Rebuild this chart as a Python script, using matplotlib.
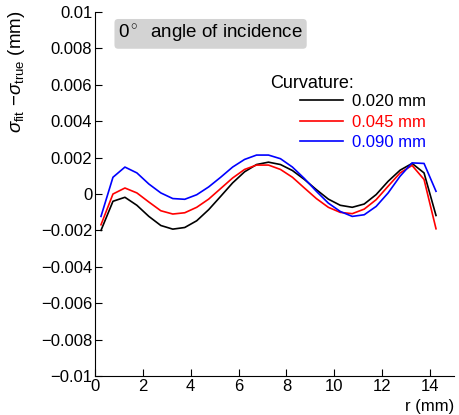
import matplotlib
matplotlib.use("Agg")
import matplotlib.pyplot as plt
import numpy as np

plt.rcParams['font.family'] = ['Liberation Sans', 'DejaVu Sans']
plt.rcParams['mathtext.fontset'] = 'custom'
plt.rcParams['mathtext.rm'] = 'Liberation Sans'
plt.rcParams['mathtext.it'] = 'Liberation Sans:italic'

# radial positions (mm)
r = np.arange(0.25, 14.3, 0.5)

# sigma_fit - sigma_true (mm) for each curvature
dev_020 = [-0.00200, -0.00040, -0.00018, -0.00062, -0.00123, -0.00173, -0.00193, -0.00184,
           -0.00147, -0.00086, -0.00013, 0.00061, 0.00122, 0.00162, 0.00175, 0.00162,
           0.00129, 0.00080, 0.00024, -0.00028, -0.00062, -0.00073, -0.00055, -0.00003,
           0.00070, 0.00131, 0.00168, 0.00116, -0.00118]
dev_045 = [-0.00169, 0.00000, 0.00033, 0.00006, -0.00044, -0.00092, -0.00110, -0.00103,
           -0.00073, -0.00028, 0.00030, 0.00088, 0.00135, 0.00159, 0.00159, 0.00135,
           0.00092, 0.00033, -0.00025, -0.00073, -0.00101, -0.00108, -0.00083, -0.00031,
           0.00043, 0.00116, 0.00157, 0.00080, -0.00191]
dev_090 = [-0.00123, 0.00092, 0.00148, 0.00116, 0.00055, 0.00006, -0.00025, -0.00029,
           -0.00004, 0.00039, 0.00092, 0.00148, 0.00190, 0.00214, 0.00214, 0.00194,
           0.00148, 0.00085, 0.00015, -0.00050, -0.00096, -0.00123, -0.00114, -0.00068,
           0.00006, 0.00098, 0.00171, 0.00168, 0.00015]

labels = ['0.020 mm', '0.045 mm', '0.090 mm']
colors = ['black', 'red', 'blue']

fig = plt.figure(figsize=(4.59, 4.15), dpi=100)
ax = fig.add_axes([0.207, 0.094, 0.782, 0.877])

for d, lab, c in zip([dev_020, dev_045, dev_090], labels, colors):
    ax.plot(r, d, color=c, lw=1.2, label=lab)

ax.set_xlim(0, 15)
ax.set_ylim(-0.01, 0.01)
ax.set_xticks(np.arange(0, 15, 2))
yt = np.arange(-0.01, 0.0101, 0.002)
ax.set_yticks(yt)
ax.set_yticklabels([('%g' % round(v, 4)).replace('-', '\u2212') for v in yt])

for s in ['top', 'right']:
    ax.spines[s].set_visible(False)
ax.tick_params(direction='in', length=5, labelsize=12, pad=2)

ax.set_ylabel(r'$\sigma_{\rm fit}$ $-\sigma_{\rm true}$ (mm)', fontsize=13.5)
ax.yaxis.set_label_coords(-0.19, 0.835)
ax.text(1.0, -0.085, 'r (mm)', transform=ax.transAxes, ha='right', va='center', fontsize=12)

ax.text(0.322, 0.94, r'0$^\circ$  angle of incidence', transform=ax.transAxes,
        ha='center', va='center', fontsize=13.5,
        bbox=dict(boxstyle='round,pad=0.2', fc='#d3d3d3', ec='none'))

ax.text(0.487, 0.803, 'Curvature:', transform=ax.transAxes, ha='left', va='center', fontsize=13)
leg = ax.legend(loc='upper left', bbox_to_anchor=(0.571, 0.775), frameon=False,
                fontsize=12, handlelength=2.6, handletextpad=0.5, labelspacing=0.34,
                borderpad=0, borderaxespad=0)
for t, c in zip(leg.get_texts(), colors):
    t.set_color(c)

fig.savefig('out.png', dpi=100)
